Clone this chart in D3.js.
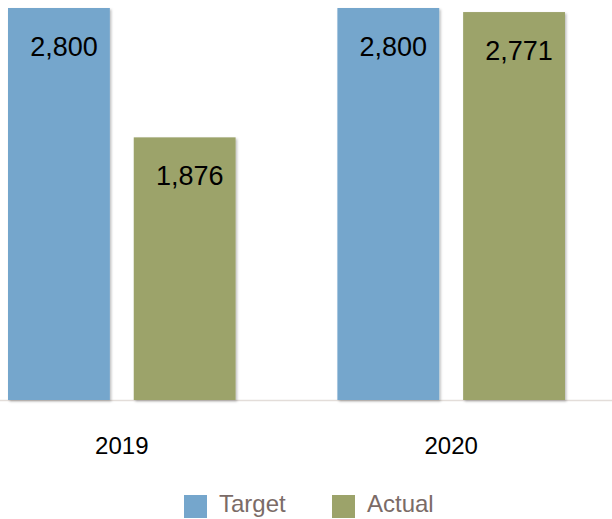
<!DOCTYPE html>
<html>
<head>
<meta charset="utf-8">
<script src="https://cdn.jsdelivr.net/npm/d3@7"></script>
<style>
  body { margin: 0; background: #fff; }
  text { font-family: "Liberation Sans", Arial, sans-serif; }
</style>
</head>
<body>
<script>
// data
const years = ["2019", "2020"];
const seriesNames = ["Target", "Actual"];
const targetValues = [2800, 2800];
const actualValues = [1876, 2771];
const colors = ["#75a6cc", "#9ca36a"];

var w = 612;
var h = 519;
var baseY = 400;
var topY = 8;

var svg = d3.select("body").append("svg").attr("width", w).attr("height", h);

// soft shadow on the bars
var defs = svg.append("defs");
var filt = defs.append("filter").attr("id", "shadow")
  .attr("x", "-10%").attr("y", "-10%").attr("width", "130%").attr("height", "130%");
filt.append("feDropShadow")
  .attr("dx", 1.5).attr("dy", 1.5).attr("stdDeviation", 1.2)
  .attr("flood-color", "#000").attr("flood-opacity", 0.25);

var x0 = d3.scaleBand().domain(years).range([8, 565]).paddingInner(0.309).paddingOuter(0);
var x1 = d3.scaleBand().domain(seriesNames).range([0, x0.bandwidth()]).paddingInner(0.19);
var y = d3.scaleLinear().domain([0, 2800]).range([baseY, topY]);

var rows = years.map(function (yr, i) {
  return { year: yr, values: [targetValues[i], actualValues[i]] };
});

// baseline
svg.append("line")
  .attr("x1", 0).attr("x2", w)
  .attr("y1", baseY + 0.5).attr("y2", baseY + 0.5)
  .attr("stroke", "#e3ddd9").attr("stroke-width", 1.5);

var groups = svg.selectAll(".grp").data(rows).enter().append("g")
  .attr("class", "grp")
  .attr("transform", function (d) { return "translate(" + x0(d.year) + ",0)"; });

var bars = groups.selectAll("g.bar").data(function (d) {
  return d.values.map(function (v, j) { return { name: seriesNames[j], value: v, j: j }; });
}).enter().append("g").attr("class", "bar");

bars.append("rect")
  .attr("x", function (d) { return x1(d.name); })
  .attr("y", function (d) { return y(d.value); })
  .attr("width", x1.bandwidth())
  .attr("height", function (d) { return baseY - y(d.value); })
  .attr("fill", function (d) { return colors[d.j]; })
  .attr("filter", "url(#shadow)");

bars.append("text")
  .attr("x", function (d) { return x1(d.name) + x1.bandwidth() / 2 + 5; })
  .attr("y", function (d) { return y(d.value) + 48; })
  .attr("text-anchor", "middle")
  .attr("font-size", 27)
  .attr("fill", "#000")
  .text(function (d) { return d3.format(",")(d.value); });

// category labels
svg.selectAll(".cat").data(years).enter().append("text")
  .attr("class", "cat")
  .attr("x", function (d) { return x0(d) + x0.bandwidth() / 2; })
  .attr("y", 454)
  .attr("text-anchor", "middle")
  .attr("font-size", 24)
  .attr("fill", "#000")
  .text(function (d) { return d; });

// legend
var legendX = [184, 332];
var leg = svg.selectAll(".leg").data(seriesNames).enter().append("g")
  .attr("class", "leg")
  .attr("transform", function (d, i) { return "translate(" + legendX[i] + ",495)"; });
leg.append("rect")
  .attr("width", 23).attr("height", 23)
  .attr("fill", function (d, i) { return colors[i]; });
leg.append("text")
  .attr("x", 35).attr("y", 17)
  .attr("font-size", 24)
  .attr("fill", "#7b6b67")
  .text(function (d) { return d; });
</script>
</body>
</html>
